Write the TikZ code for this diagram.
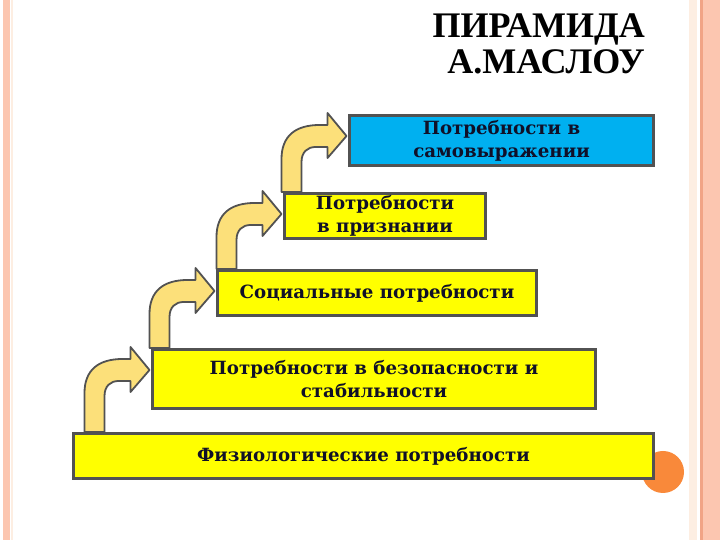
\documentclass[tikz,border=0pt]{standalone}
\usepackage{fontspec}
\setmainfont{Liberation Serif}
\newfontfamily\tierfont{DejaVu Serif}
\usetikzlibrary{calc}
\definecolor{BoxYellow}{RGB}{255,255,0}
\definecolor{BoxBlue}{RGB}{0,176,240}
\definecolor{ArrowGold}{RGB}{252,224,122}
\definecolor{EdgeGray}{RGB}{82,82,82}
\definecolor{InkNavy}{RGB}{16,16,40}
\definecolor{RimSalmon}{RGB}{252,198,176}
\definecolor{RimLine}{RGB}{241,164,134}
\definecolor{RimPale}{RGB}{253,238,226}
\definecolor{DotOrange}{RGB}{249,137,58}

% bent arrow from the top of one tier into the left side of the next
\newcommand\steparrow[2]{%
  \begin{scope}[shift={($(#2.north west)+(-1.5,-22)$)}]
    \draw[stairarrow] (-65,0 |- #1.north) -- (-65,-23)
      .. controls (-65,0) and (-51,11) .. (-27,11) -- (-19,11) -- (-19,23)
      -- (0,0) -- (-19,-22) -- (-19,-11) -- (-31,-11)
      .. controls (-39,-11) and (-45,-16) .. (-45,-26)
      -- (-45,0 |- #1.north) -- cycle;
  \end{scope}}

\begin{document}
\begin{tikzpicture}[x=1pt,y=1pt,
  tierbox/.style={draw=EdgeGray,line width=3pt,fill=BoxYellow,align=center,
    inner sep=0pt,text=InkNavy,font=\tierfont\fontsize{18.2}{23}\selectfont\bfseries},
  stairarrow/.style={draw=EdgeGray,line width=1.8pt,fill=ArrowGold,line join=round}]
\useasboundingbox (0,0) rectangle (720,540);
\fill[white] (0,0) rectangle (720,540);
% slide rims
\fill[RimSalmon] (3,0) rectangle (10,540);
\fill[RimPale] (11,0) rectangle (13,540);
\fill[RimPale] (689,0) rectangle (697,540);
\fill[RimLine] (700,0) rectangle (703,540);
\fill[RimSalmon] (703,0) rectangle (720,540);
\fill[DotOrange] (663,68) circle (21pt);
% title
\node[anchor=north east,align=right,inner sep=0pt,
  font=\fontsize{36}{36}\selectfont\bfseries] (title) at (645,526) {ПИРАМИДА\\А.МАСЛОУ};
% tiers
\node[tierbox,fill=BoxBlue,minimum width=304pt,minimum height=50pt] (self)
  at (501.5,399.5) {Потребности в\\самовыражении};
\node[tierbox,minimum width=201pt,minimum height=45pt] (resp)
  at (385,324) {Потребности\\в признании};
\node[tierbox,minimum width=319pt,minimum height=45pt] (soc)
  at (377,247) {Социальные потребности};
\node[tierbox,minimum width=443pt,minimum height=59pt] (safe)
  at (374,161) {Потребности в безопасности и\\стабильности};
\node[tierbox,minimum width=580pt,minimum height=45pt] (phys)
  at (363.5,84) {Физиологические потребности};
\foreach \lo/\hi in {phys/safe,safe/soc,soc/resp,resp/self}
  \steparrow{\lo}{\hi};
\end{tikzpicture}
\end{document}
